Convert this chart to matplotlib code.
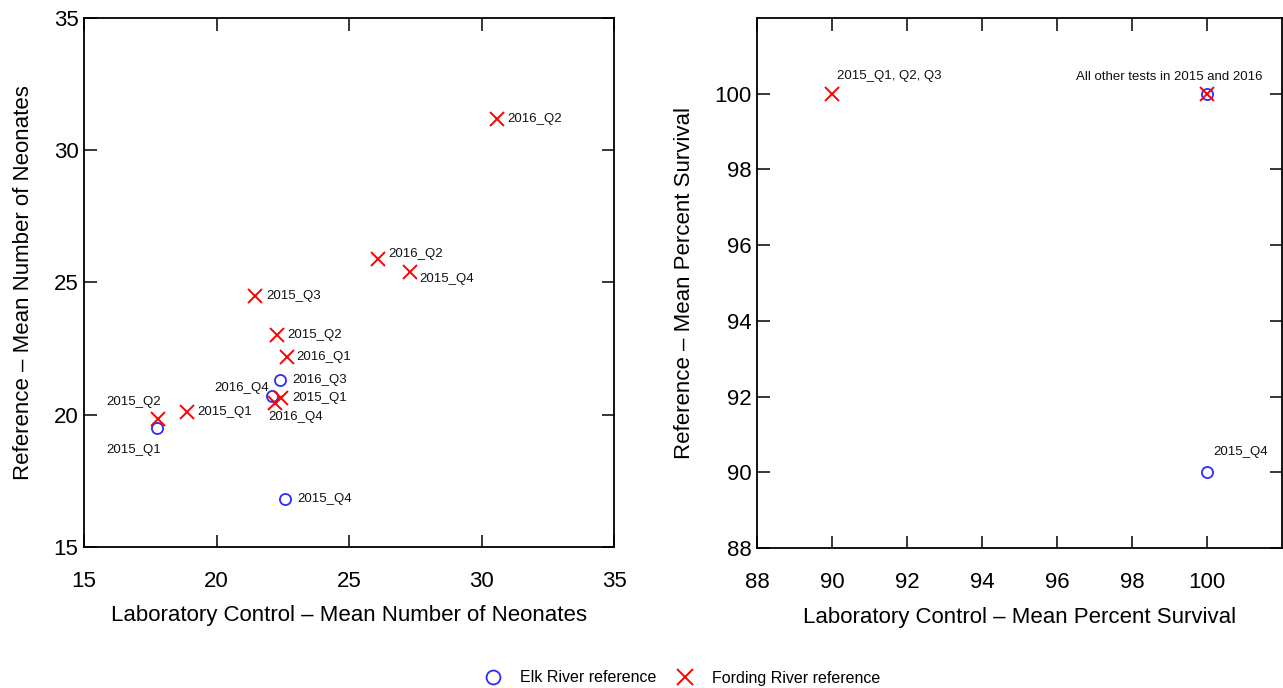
import matplotlib
matplotlib.use("Agg")
import matplotlib.pyplot as plt
from matplotlib.lines import Line2D

plt.rcParams['font.family'] = ['Liberation Sans', 'DejaVu Sans']

# ---- Left panel: mean number of neonates ----
elk_neo_lab = ["2016_Q3", "2016_Q4", "2015_Q1", "2015_Q4"]
elk_neo_x = [22.4, 22.1, 17.75, 22.6]
elk_neo_y = [21.3, 20.7, 19.5, 16.8]

ford_neo_lab = ["2016_Q2", "2016_Q2", "2015_Q4", "2015_Q3", "2015_Q2",
                "2016_Q1", "2015_Q1", "2016_Q4", "2015_Q1", "2015_Q2"]
ford_neo_x = [30.6, 26.1, 27.3, 21.45, 22.3, 22.65, 22.45, 22.2, 18.9, 17.8]
ford_neo_y = [31.2, 25.9, 25.4, 24.5, 23.0, 22.2, 20.65, 20.45, 20.1, 19.85]

# ---- Right panel: mean percent survival ----
elk_surv_x = [100, 100]
elk_surv_y = [100, 90]
elk_surv_lab = ["", "2015_Q4"]
ford_surv_x = [90, 100]
ford_surv_y = [100, 100]
ford_surv_lab = ["2015_Q1, Q2, Q3", "All other tests in 2015 and 2016"]

neo_ticks = [15, 20, 25, 30, 35]
surv_ticks = [88, 90, 92, 94, 96, 98, 100]

# label placement (pixel offsets, alignment)
elk_neo_off = [(12, 0, 'left'), (-3, 8, 'right'), (4, -22, 'right'), (12, 0, 'left')]
ford_neo_off = [(10, 0, 'left'), (10, 5, 'left'), (9, -7, 'left'), (11, 0, 'left'),
                (10, 0, 'left'), (10, 0, 'left'), (11, 0, 'left'), (-6, -14, 'left'),
                (10, 0, 'left'), (3, 17, 'right')]
elk_surv_off = [(0, 0, 'left'), (6, 20, 'left')]
ford_surv_off = [(5, 18, 'left'), (56, 17, 'right')]

W, H = 1283, 688
fig = plt.figure(figsize=(W / 100, H / 100), dpi=100)

ax1 = fig.add_axes([84 / W, (H - 547) / H, 530 / W, 529 / H])
ax2 = fig.add_axes([757 / W, (H - 548) / H, (1282 - 757) / W, 530 / H])

BLUE = '#2b2bff'
RED = '#ff0000'
ms_o = 8
ms_x = 10


def style(ax, ticks, lim):
    ax.set_xlim(*lim)
    ax.set_ylim(*lim)
    ax.set_xticks(ticks)
    ax.set_yticks(ticks)
    ax.tick_params(direction='in', length=9, width=1.1, top=True, right=True,
                   labelsize=16, colors='black')
    ax.tick_params(axis='x', pad=17)
    ax.tick_params(axis='y', pad=4)
    for s in ax.spines.values():
        s.set_linewidth(1.3)


def annotate(ax, xs, ys, labs, offs):
    for x, y, t, (dx, dy, ha) in zip(xs, ys, labs, offs):
        if t:
            ax.annotate(t, (x, y), xytext=(dx, dy), textcoords='offset pixels',
                        ha=ha, va='center', fontsize=9.5, color='#111111')


# left
ax1.plot(elk_neo_x, elk_neo_y, 'o', ms=ms_o, mfc='none', mec=BLUE, mew=1.3, ls='none')
ax1.plot(ford_neo_x, ford_neo_y, 'x', ms=ms_x, mec=RED, mew=1.4, ls='none')
annotate(ax1, elk_neo_x, elk_neo_y, elk_neo_lab, elk_neo_off)
annotate(ax1, ford_neo_x, ford_neo_y, ford_neo_lab, ford_neo_off)
style(ax1, neo_ticks, (15, 35))
ax1.set_xlabel("Laboratory Control – Mean Number of Neonates", fontsize=16, labelpad=10)
ax1.set_ylabel("Reference – Mean Number of Neonates", fontsize=16, labelpad=14)

# right
ax2.plot(elk_surv_x, elk_surv_y, 'o', ms=ms_o, mfc='none', mec=BLUE, mew=1.3, ls='none')
ax2.plot(ford_surv_x, ford_surv_y, 'x', ms=ms_x, mec=RED, mew=1.4, ls='none')
annotate(ax2, elk_surv_x, elk_surv_y, elk_surv_lab, elk_surv_off)
annotate(ax2, ford_surv_x, ford_surv_y, ford_surv_lab, ford_surv_off)
style(ax2, surv_ticks, (88, 102))
ax2.set_xlabel("Laboratory Control – Mean Percent Survival", fontsize=16, labelpad=10)
ax2.set_ylabel("Reference – Mean Percent Survival", fontsize=16, labelpad=14)

handles = [Line2D([], [], marker='o', ls='none', ms=10, mfc='none', mec=BLUE, mew=1.3),
           Line2D([], [], marker='x', ls='none', ms=12, mec=RED, mew=1.4)]
fig.legend(handles, ["Elk River reference", "Fording River reference"],
           loc='center', bbox_to_anchor=(0.532, 10 / H), ncol=2, frameon=False,
           fontsize=11.5, handlelength=1.0, handletextpad=1.2, columnspacing=1.3)

fig.savefig("out.png", dpi=100)
